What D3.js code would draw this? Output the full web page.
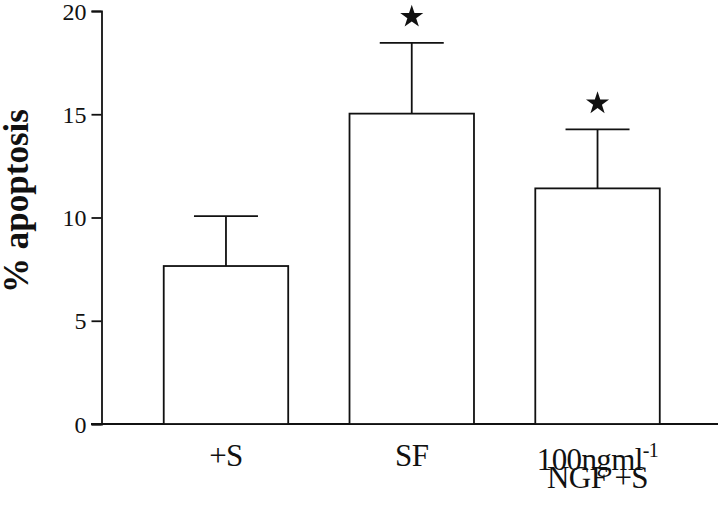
<!DOCTYPE html>
<html>
<head>
<meta charset="utf-8">
<script src="https://cdn.jsdelivr.net/npm/d3@7"></script>
<style>
  body { margin: 0; background: #fff; }
  svg text { font-family: "Liberation Serif", "Times New Roman", serif; fill: #111; }
</style>
</head>
<body>
<div id="chart"></div>
<script>
// data
const groups = ["+S", "SF", "NGF+S"];
const groupLabels = [["+S"], ["SF"], ["100ngml", "NGF +S"]];
const means = [7.65, 15.03, 11.41];
const sems = [2.42, 3.43, 2.86];
const significant = [false, true, true];
const yTicks = [0, 5, 10, 15, 20];

const width = 720, height = 506;
const svg = d3.select("#chart").append("svg")
    .attr("width", width)
    .attr("height", height);

const x = d3.scaleBand()
    .domain(groups)
    .range([101.5, 722])
    .paddingInner(0.33)
    .paddingOuter(0.335);

const y = d3.scaleLinear().domain([0, 20]).range([424, 11]);

const ink = "#111";

// y axis
const yAxis = d3.axisLeft(y).tickValues(yTicks).tickSize(10).tickPadding(5);
const gy = svg.append("g").attr("transform", "translate(101.5,0)").call(yAxis);
gy.select(".domain").attr("stroke", ink).attr("stroke-width", 1.8);
gy.selectAll(".tick line").attr("stroke", ink).attr("stroke-width", 1.8);
gy.selectAll(".tick text")
    .attr("font-size", 24)
    .attr("dy", "0.34em")
    .attr("fill", ink);

// x baseline
svg.append("line")
    .attr("x1", 91).attr("x2", 718)
    .attr("y1", y(0)).attr("y2", y(0))
    .attr("stroke", ink).attr("stroke-width", 1.8);

const rows = groups.map((g, i) => ({ g, mean: means[i], sem: sems[i], sig: significant[i], label: groupLabels[i] }));
const cx = d => x(d.g) + x.bandwidth() / 2;

// error bars (drawn first so bar outline sits on top)
const err = svg.append("g").selectAll("g").data(rows).enter().append("g");
err.append("line")
    .attr("x1", cx).attr("x2", cx)
    .attr("y1", d => y(d.mean))
    .attr("y2", d => y(d.mean + d.sem))
    .attr("stroke", ink).attr("stroke-width", 1.8);
err.append("line")
    .attr("x1", d => cx(d) - 32)
    .attr("x2", d => cx(d) + 32)
    .attr("y1", d => y(d.mean + d.sem))
    .attr("y2", d => y(d.mean + d.sem))
    .attr("stroke", ink).attr("stroke-width", 1.8);

// bars
svg.append("g").selectAll("rect").data(rows).enter().append("rect")
    .attr("x", d => x(d.g))
    .attr("y", d => y(d.mean))
    .attr("width", x.bandwidth())
    .attr("height", d => y(0) - y(d.mean))
    .attr("fill", "#fff")
    .attr("stroke", ink)
    .attr("stroke-width", 1.8);

// significance stars
svg.append("g").selectAll("path").data(rows.filter(d => d.sig)).enter().append("path")
    .attr("d", d3.symbol(d3.symbolStar).size(165))
    .attr("transform", d => `translate(${cx(d)},${y(d.mean + d.sem) - 26})`)
    .attr("fill", ink);

// category labels
const lab = svg.append("g").selectAll("text").data(rows).enter().append("text")
    .attr("text-anchor", "middle")
    .attr("font-size", 31)
    .attr("letter-spacing", -0.6)
    .attr("x", cx)
    .attr("y", d => d.label.length > 1 ? 470 : 466);
lab.each(function (d) {
    const t = d3.select(this);
    d.label.forEach((line, k) => {
        const ts = t.append("tspan")
            .attr("x", cx(d))
            .attr("dy", k === 0 ? 0 : 31)
            .text(line);
        if (k === 0 && d.label.length > 1) {
            ts.append("tspan").attr("dy", -13).attr("font-size", 20).text("-1");
            ts.append("tspan").attr("dy", 13).text("");
        }
    });
});

// y label
svg.append("text")
    .attr("transform", "translate(28,201) rotate(-90)")
    .attr("text-anchor", "middle")
    .attr("font-size", 35)
    .attr("font-weight", "bold")
    .text("% apoptosis");
</script>
</body>
</html>
